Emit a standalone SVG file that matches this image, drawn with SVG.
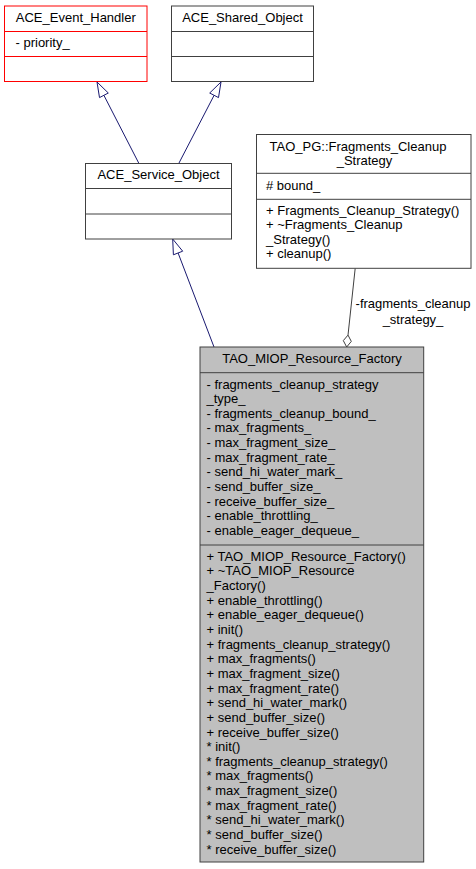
<svg xmlns="http://www.w3.org/2000/svg" width="476" height="869" viewBox="0 0 476 869">
<style>
text{font-family:"Liberation Sans",Arial,Helvetica,sans-serif;font-size:13px;fill:#000}
.c{text-anchor:middle}
.box{fill:#fff;stroke:#404040;stroke-width:1}
.red{fill:#fff;stroke:#ff0000;stroke-width:1}
.main{fill:#bfbfbf;stroke:#404040;stroke-width:1}
.sep{stroke:#404040;stroke-width:1}
.sepr{stroke:#ff0000;stroke-width:1}
.inh{stroke:#191970;stroke-width:1;fill:none}
.inhh{stroke:#191970;stroke-width:1;fill:#fff}
.comp{stroke:#404040;stroke-width:1;fill:none}
.comph{stroke:#404040;stroke-width:1;fill:#fff}
</style>
<rect width="476" height="869" fill="#fff"/>
<g id="connectors">
<line class="inh" x1="138.7" y1="163" x2="103.9" y2="95.3"/>
<polygon class="inhh" points="97,82 108.3,93 99.5,97.6"/>
<line class="inh" x1="179" y1="163" x2="214.1" y2="95.3"/>
<polygon class="inhh" points="221,82 218.5,97.6 209.7,93"/>
<line class="inh" x1="214" y1="347" x2="178.1" y2="253"/>
<polygon class="inhh" points="172.7,239 182.7,251.2 173.4,254.8"/>
<line class="comp" x1="355.2" y1="268.3" x2="348" y2="335.1"/>
<polygon class="comph" points="346.7,347 351.3,341.4 348,335.1 343.3,340.6"/>
<text class="c" x="413" y="308">-fragments_cleanup</text>
<text class="c" x="413" y="323.5">_strategy_</text>
</g>
<g id="ACE_Event_Handler">
<rect class="red" x="4.5" y="6" width="142.5" height="75.5"/>
<line class="sepr" x1="4.5" y1="31.5" x2="147" y2="31.5"/>
<line class="sepr" x1="4.5" y1="56.5" x2="147" y2="56.5"/>
<text class="c" x="75.8" y="21.5">ACE_Event_Handler</text>
<text x="15.5" y="46.5">- priority_</text>
</g>
<g id="ACE_Shared_Object">
<rect class="box" x="171.5" y="6" width="142" height="75.5"/>
<line class="sep" x1="171.5" y1="31.5" x2="313.5" y2="31.5"/>
<line class="sep" x1="171.5" y1="56.5" x2="313.5" y2="56.5"/>
<text class="c" x="242.5" y="21.5">ACE_Shared_Object</text>
</g>
<g id="ACE_Service_Object">
<rect class="box" x="85.5" y="163.5" width="146" height="75.5"/>
<line class="sep" x1="85.5" y1="188.5" x2="231.5" y2="188.5"/>
<line class="sep" x1="85.5" y1="214" x2="231.5" y2="214"/>
<text class="c" x="158.5" y="178.5">ACE_Service_Object</text>
</g>
<g id="Fragments_Cleanup_Strategy">
<rect class="box" x="256.5" y="134.5" width="214.5" height="133.8"/>
<line class="sep" x1="256.5" y1="173.3" x2="471" y2="173.3"/>
<line class="sep" x1="256.5" y1="199.3" x2="471" y2="199.3"/>
<text class="c" x="358" y="150.5">TAO_PG::Fragments_Cleanup</text>
<text class="c" x="364.5" y="165">_Strategy</text>
<text x="266" y="189.5"># bound_</text>
<text x="266" y="214.5">+ Fragments_Cleanup_Strategy()</text>
<text x="266" y="229">+ ~Fragments_Cleanup</text>
<text x="266" y="243.5">_Strategy()</text>
<text x="266" y="258">+ cleanup()</text>
</g>
<g id="TAO_MIOP_Resource_Factory">
<rect class="main" x="200" y="347" width="223.7" height="515"/>
<line class="sep" x1="200" y1="372.7" x2="423.7" y2="372.7"/>
<line class="sep" x1="200" y1="545" x2="423.7" y2="545"/>
<text class="c" x="312" y="363">TAO_MIOP_Resource_Factory</text>
<text x="206.5" y="388.5">- fragments_cleanup_strategy</text>
<text x="206.5" y="403.15">_type_</text>
<text x="206.5" y="417.8">- fragments_cleanup_bound_</text>
<text x="206.5" y="432.45">- max_fragments_</text>
<text x="206.5" y="447.1">- max_fragment_size_</text>
<text x="206.5" y="461.75">- max_fragment_rate_</text>
<text x="206.5" y="476.4">- send_hi_water_mark_</text>
<text x="206.5" y="491.05">- send_buffer_size_</text>
<text x="206.5" y="505.7">- receive_buffer_size_</text>
<text x="206.5" y="520.35">- enable_throttling_</text>
<text x="206.5" y="535">- enable_eager_dequeue_</text>
<text x="206.5" y="560.7">+ TAO_MIOP_Resource_Factory()</text>
<text x="206.5" y="575.35">+ ~TAO_MIOP_Resource</text>
<text x="206.5" y="590">_Factory()</text>
<text x="206.5" y="604.65">+ enable_throttling()</text>
<text x="206.5" y="619.3">+ enable_eager_dequeue()</text>
<text x="206.5" y="633.95">+ init()</text>
<text x="206.5" y="648.6">+ fragments_cleanup_strategy()</text>
<text x="206.5" y="663.25">+ max_fragments()</text>
<text x="206.5" y="677.9">+ max_fragment_size()</text>
<text x="206.5" y="692.55">+ max_fragment_rate()</text>
<text x="206.5" y="707.2">+ send_hi_water_mark()</text>
<text x="206.5" y="721.85">+ send_buffer_size()</text>
<text x="206.5" y="736.5">+ receive_buffer_size()</text>
<text x="206.5" y="751.15">* init()</text>
<text x="206.5" y="765.8">* fragments_cleanup_strategy()</text>
<text x="206.5" y="780.45">* max_fragments()</text>
<text x="206.5" y="795.1">* max_fragment_size()</text>
<text x="206.5" y="809.75">* max_fragment_rate()</text>
<text x="206.5" y="824.4">* send_hi_water_mark()</text>
<text x="206.5" y="839.05">* send_buffer_size()</text>
<text x="206.5" y="853.7">* receive_buffer_size()</text>
</g>
</svg>
